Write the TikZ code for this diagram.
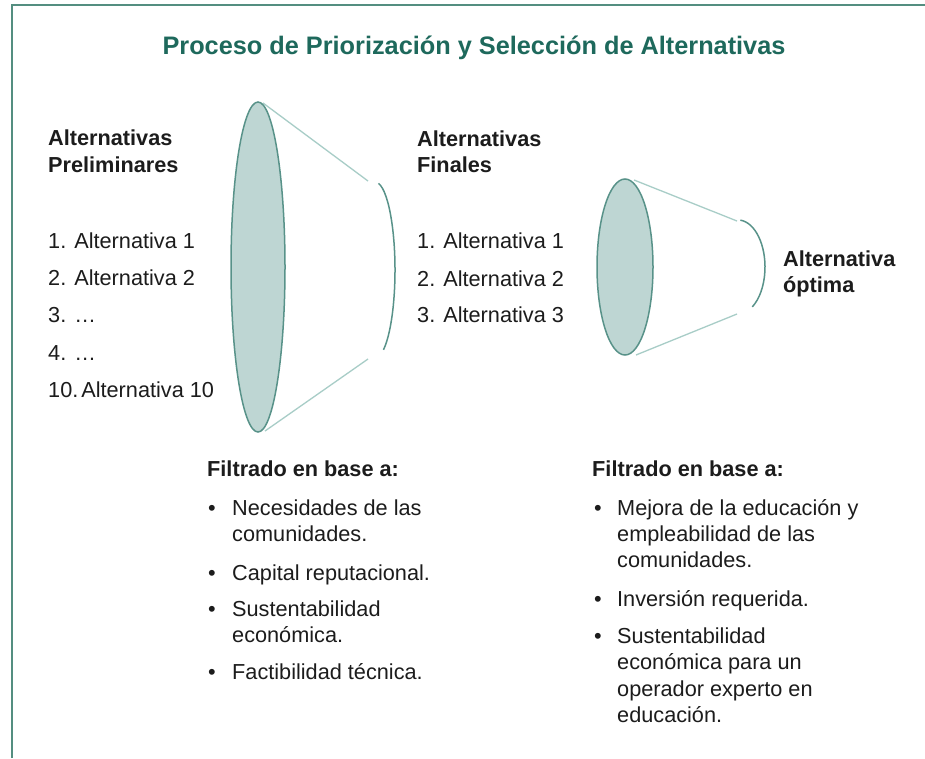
\documentclass[tikz,border=0pt]{standalone}
\usepackage{fontspec}
\setmainfont{Liberation Sans}
\definecolor{frameC}{RGB}{84,142,128}
\definecolor{titleC}{RGB}{30,105,92}
\definecolor{fillC}{RGB}{190,214,211}
\definecolor{rimC}{RGB}{88,146,137}
\definecolor{sideC}{RGB}{168,205,199}
\definecolor{txtC}{RGB}{28,28,28}
\tikzset{
  body/.style={font=\fontsize{21.7}{25}\selectfont, anchor=base west, inner sep=0pt, text=txtC},
  head/.style={body, font=\fontsize{21.7}{25}\selectfont\bfseries},
  rim/.style={draw=rimC, line width=1.5pt},
  side/.style={draw=sideC, line width=1.3pt},
}
\begin{document}
\begin{tikzpicture}[x=1pt,y=-1pt]
\useasboundingbox (0,0) rectangle (925,758);
\fill[white] (0,0) rectangle (925,758);
% frame
\draw[frameC, line width=2pt] (11.5,758) -- (11.5,5) -- (925,5);
% title
\node[anchor=base, inner sep=0pt, text=titleC, font=\fontsize{25.3}{29}\selectfont\bfseries] (title) at (474,54) {Proceso de Priorización y Selección de Alternativas};

% cone 1
\draw[side] (263,103) -- (368,181);
\draw[side] (265,431) -- (368,359);
\draw[rim] (375,270) ++(-80:20 and 88) arc[start angle=-80, end angle=65, x radius=20, y radius=88];
\draw[rim, fill=fillC] (258,267) ellipse[x radius=27, y radius=165];

% cone 2
\draw[side] (634,180) -- (737,221);
\draw[side] (636,355) -- (737,314);
\draw[rim] (738,267) ++(-85:27 and 47) arc[start angle=-85, end angle=58, x radius=27, y radius=47];
\draw[rim, fill=fillC] (625,267) ellipse[x radius=28, y radius=88];

% left column
\node[head] (h1a) at (48,145) {Alternativas};
\node[head] (h1b) at (48,172) {Preliminares};
\node[body] (l1) at (48,248) {1. Alternativa 1};
\node[body] (l2) at (48,285) {2. Alternativa 2};
\node[body] (l3) at (48,322) {3. \dots};
\node[body] (l4) at (48,360) {4. \dots};
\node[body] (l5) at (48,397) {10.\hspace{3pt}Alternativa 10};

% middle column
\node[head] (h2a) at (417,146) {Alternativas};
\node[head] (h2b) at (417,172) {Finales};
\node[body] (m1) at (417,248) {1. Alternativa 1};
\node[body] (m2) at (417,286) {2. Alternativa 2};
\node[body] (m3) at (417,322) {3. Alternativa 3};

% right
\node[head] (h3a) at (783,266) {Alternativa};
\node[head] (h3b) at (783,292) {óptima};

% filter left
\node[head] (f1) at (207,476) {Filtrado en base a:};
\node[body] (b1) at (208,515) {•};
\node[body] (t1a) at (232,515) {Necesidades de las};
\node[body] (t1b) at (232,541) {comunidades.};
\node[body] (b2) at (208,580) {•};
\node[body] (t2a) at (232,580) {Capital reputacional.};
\node[body] (b3) at (208,616) {•};
\node[body] (t3a) at (232,616) {Sustentabilidad};
\node[body] (t3b) at (232,642) {económica.};
\node[body] (b4) at (208,679) {•};
\node[body] (t4a) at (232,679) {Factibilidad técnica.};

% filter right
\node[head] (f2) at (592,476) {Filtrado en base a:};
\node[body] (c1) at (594,515) {•};
\node[body] (u1a) at (617,515) {Mejora de la educación y};
\node[body] (u1b) at (617,541) {empleabilidad de las};
\node[body] (u1c) at (617,567) {comunidades.};
\node[body] (c2) at (594,606) {•};
\node[body] (u2a) at (617,606) {Inversión requerida.};
\node[body] (c3) at (594,643) {•};
\node[body] (u3a) at (617,643) {Sustentabilidad};
\node[body] (u3b) at (617,669) {económica para un};
\node[body] (u3c) at (617,696) {operador experto en};
\node[body] (u3d) at (617,722) {educación.};
\end{tikzpicture}
\end{document}
